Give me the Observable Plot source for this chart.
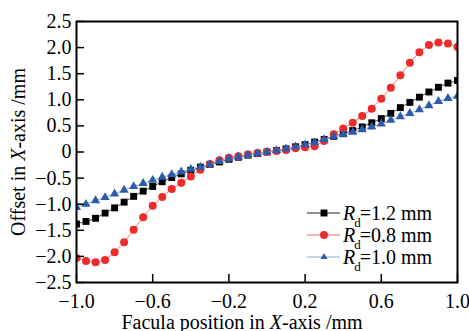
<!DOCTYPE html>
<html><head><meta charset="utf-8">
<script src="https://cdn.jsdelivr.net/npm/d3@7"></script>
<script src="https://cdn.jsdelivr.net/npm/@observablehq/plot@0.6"></script>
<style>
html,body{margin:0;padding:0;background:#fff}
#chart svg{display:block}
</style>
</head><body><div id="chart"></div>
<script>
// Facula position in X-axis (mm)
const xPos = [-1.00,-0.95,-0.90,-0.85,-0.80,-0.75,-0.70,-0.65,-0.60,-0.55,-0.50,-0.45,-0.40,-0.35,-0.30,-0.25,-0.20,-0.15,-0.10,-0.05,
  0.00,0.05,0.10,0.15,0.20,0.25,0.30,0.35,0.40,0.45,0.50,0.55,0.60,0.65,0.70,0.75,0.80,0.85,0.90,0.95,1.00];
// Rd = 1.2 mm
const offsetRd12 = [-1.38,-1.33,-1.27,-1.17,-1.07,-0.96,-0.85,-0.75,-0.66,-0.57,-0.49,-0.42,-0.35,-0.29,-0.24,-0.19,-0.14,-0.10,-0.06,-0.03,
  0.00,0.03,0.06,0.10,0.14,0.19,0.24,0.30,0.35,0.41,0.48,0.56,0.64,0.74,0.85,0.95,1.05,1.15,1.24,1.32,1.37];
// Rd = 0.8 mm
const offsetRd08 = [-2.03,-2.09,-2.11,-2.07,-1.92,-1.73,-1.49,-1.25,-1.03,-0.86,-0.71,-0.59,-0.47,-0.34,-0.23,-0.16,-0.11,-0.08,-0.05,-0.02,
  0.00,0.02,0.04,0.07,0.09,0.11,0.21,0.34,0.45,0.56,0.69,0.83,1.02,1.23,1.47,1.71,1.91,2.05,2.10,2.08,2.01];
// Rd = 1.0 mm
const offsetRd10 = [-1.06,-1.00,-0.93,-0.87,-0.80,-0.73,-0.66,-0.60,-0.54,-0.48,-0.43,-0.38,-0.33,-0.29,-0.24,-0.18,-0.13,-0.095,-0.06,-0.03,
  0.00,0.03,0.06,0.10,0.14,0.18,0.24,0.30,0.34,0.38,0.43,0.48,0.54,0.61,0.68,0.74,0.81,0.89,0.97,1.03,1.07];
const seriesLabels = ["=1.2 mm", "=0.8 mm", "=1.0 mm"];
const xTicks = [-1.0, -0.6, -0.2, 0.2, 0.6, 1.0];
const yTicks = [2.5, 2.0, 1.5, 1.0, 0.5, 0, -0.5, -1.0, -1.5, -2.0, -2.5];

const rows = ys => xPos.map((x, i) => ({x, y: ys[i]}));
const r12 = rows(offsetRd12), r08 = rows(offsetRd08), r10 = rows(offsetRd10);
const fmt = d => d === 0 ? "0" : d3.format(".1f")(d);

const cBlack = "#000", cRed = "#ee2b2b", cBlue = "#2b5cab";
const lBlack = "#222", lRed = "#f26a6a", lBlue = "#8aa5d6";
const serif = "'Liberation Serif', 'Times New Roman', serif";

const plot = Plot.plot({
  width: 469, height: 331,
  marginLeft: 76, marginRight: 12, marginTop: 21, marginBottom: 49,
  style: {fontFamily: serif, fontSize: "20px", color: "#000", background: "#fff"},
  x: {domain: [-1, 1]},
  y: {domain: [-2.5, 2.5]},
  marks: [
    Plot.line(r12, {x: "x", y: "y", stroke: lBlack, strokeWidth: 0.8, clip: true}),
    Plot.dot(r12, {x: "x", y: "y", symbol: "square", r: 3.9, fill: cBlack, clip: true}),
    Plot.line(r08, {x: "x", y: "y", stroke: lRed, strokeWidth: 0.9, clip: true}),
    Plot.dot(r08, {x: "x", y: "y", symbol: "circle", r: 4, fill: cRed, clip: true}),
    Plot.line(r10, {x: "x", y: "y", stroke: lBlue, strokeWidth: 0.9, clip: true}),
    Plot.dot(r10, {x: "x", y: "y", symbol: "triangle", r: 3.4, fill: cBlue, clip: true}),
    Plot.axisX(xTicks, {tickSize: -8, tickPadding: 19, tickFormat: fmt, strokeWidth: 1.5,
      label: "Facula position in X-axis /mm", labelAnchor: "center", labelOffset: 46}),
    Plot.axisY(yTicks, {tickSize: -8, tickPadding: 13, tickFormat: fmt, strokeWidth: 1.5,
      label: "Offset in X-axis /mm", labelAnchor: "center", labelOffset: 66}),
    Plot.frame({stroke: "#000", strokeWidth: 2})
  ]
});
document.getElementById("chart").appendChild(plot);

// rich labels with italic X
const svg = d3.select(plot);
function richLabel(sel, before, after, shift) {
  sel.each(function() {
    const t = d3.select(this);
    t.text(null);
    if (shift) t.attr("transform", (t.attr("transform") || "") + ` translate(${shift},0)`);
    t.append("tspan").text(before);
    t.append("tspan").attr("font-style", "italic").text("X");
    t.append("tspan").text(after);
  });
}
richLabel(svg.selectAll('g[aria-label="x-axis label"] text'), "Facula position in ", "-axis /mm", -25);
richLabel(svg.selectAll('g[aria-label="y-axis label"] text'), "Offset in ", "-axis /mm", 0);

// legend
const legend = svg.append("g").attr("font-family", serif).attr("font-size", 20).attr("text-anchor", "start");
const legY = [213, 235, 257];
const lineCols = [lBlack, lRed, lBlue];
const symCols = [cBlack, cRed, cBlue];
const syms = [d3.symbolSquare, d3.symbolCircle, d3.symbolTriangle2];
const sizes = [3.9, 4, 3.4].map(r => Math.PI * r * r);
legY.forEach((y, i) => {
  legend.append("line").attr("x1", 307).attr("x2", 340).attr("y1", y).attr("y2", y)
    .attr("stroke", lineCols[i]).attr("stroke-width", 1.2);
  legend.append("path").attr("transform", `translate(324,${y})`)
    .attr("d", d3.symbol(syms[i], sizes[i])()).attr("fill", symCols[i]);
  const t = legend.append("text").attr("x", 343).attr("y", y + 6.5).attr("text-anchor", "start");
  t.append("tspan").attr("font-style", "italic").text("R");
  t.append("tspan").attr("font-size", 13).attr("dy", 7).attr("dx", -1).text("d");
  t.append("tspan").attr("dy", -7).attr("dx", -1).text(seriesLabels[i]);
});
</script>
</body></html>
